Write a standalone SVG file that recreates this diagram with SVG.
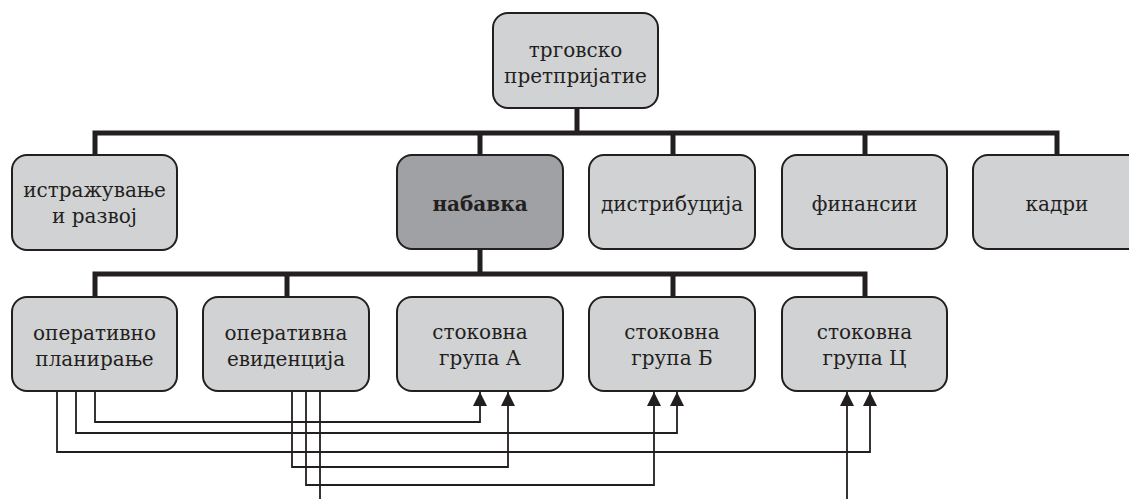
<svg xmlns="http://www.w3.org/2000/svg" width="1129" height="499" viewBox="0 0 1129 499">
<style>
.box{fill:#d1d2d4;stroke:#231f20;stroke-width:2}
.dark{fill:#a0a1a4}
.t{font-family:"DejaVu Serif","Liberation Serif",serif;font-size:20px;fill:#231f20;text-anchor:middle}
.b{font-weight:bold}
.thick{fill:none;stroke:#231f20;stroke-width:5}
.thin{fill:none;stroke:#231f20;stroke-width:1.8;marker-end:url(#arr)}
</style>
<defs>
<marker id="arr" viewBox="0 0 10 10" refX="10" refY="5" markerWidth="14" markerHeight="14" markerUnits="userSpaceOnUse" orient="auto">
<path d="M0,0 L10,5 L0,10 z" fill="#231f20"/>
</marker>
</defs>
<rect width="1129" height="499" fill="#ffffff"/>
<g id="connectors">
<path class="thick" d="M577,108 V133 M95,155 V133 H1057 V155 M480,133 V155 M673,133 V155 M865,133 V155"/>
<path class="thick" d="M480,249 V274 M95,297 V274 H865 V297 M287,274 V297 M673,274 V297"/>
<path class="thin" d="M95,392 V422 H480 V392"/>
<path class="thin" d="M76,392 V433 H677 V392"/>
<path class="thin" d="M57,392 V452 H870 V392"/>
<path class="thin" d="M292,392 V467 H508 V392"/>
<path class="thin" d="M306,392 V485 H654 V392"/>
<path class="thin" d="M320,392 V530 H847 V392"/>
</g>
<g id="n-top"><rect class="box" x="493" y="13" width="165" height="95" rx="15"/><text class="t" x="575.5" y="57">трговско</text><text class="t" x="575.5" y="83">претпријатие</text></g>
<g id="n-istr"><rect class="box" x="12" y="155" width="165" height="95" rx="15"/><text class="t" x="94.5" y="197">истражување</text><text class="t" x="94.5" y="223">и развој</text></g>
<g id="n-nabavka"><rect class="box dark" x="397" y="155" width="166" height="94" rx="15"/><text class="t b" x="480" y="211">набавка</text></g>
<g id="n-distr"><rect class="box" x="589" y="155" width="166" height="94" rx="15"/><text class="t" x="672" y="211">дистрибуција</text></g>
<g id="n-fin"><rect class="box" x="782" y="155" width="165" height="94" rx="15"/><text class="t" x="864.5" y="211">финансии</text></g>
<g id="n-kadri"><rect class="box" x="973" y="155" width="170" height="94" rx="15"/><text class="t" x="1057" y="211">кадри</text></g>
<g id="n-op-plan"><rect class="box" x="12" y="297" width="165" height="94" rx="15"/><text class="t" x="94.5" y="340">оперативно</text><text class="t" x="94.5" y="366">планирање</text></g>
<g id="n-op-evid"><rect class="box" x="203" y="297" width="166" height="94" rx="15"/><text class="t" x="286" y="340">оперативна</text><text class="t" x="286" y="366">евиденција</text></g>
<g id="n-grA"><rect class="box" x="397" y="297" width="166" height="94" rx="15"/><text class="t" x="480" y="339">стоковна</text><text class="t" x="480" y="365">група А</text></g>
<g id="n-grB"><rect class="box" x="589" y="297" width="166" height="94" rx="15"/><text class="t" x="672" y="339">стоковна</text><text class="t" x="672" y="365">група Б</text></g>
<g id="n-grC"><rect class="box" x="782" y="297" width="165" height="94" rx="15"/><text class="t" x="864.5" y="339">стоковна</text><text class="t" x="864.5" y="365">група Ц</text></g>
</svg>
